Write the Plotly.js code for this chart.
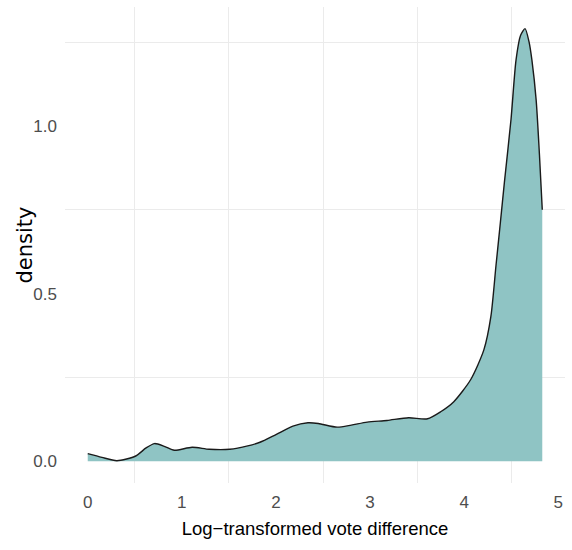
<!DOCTYPE html>
<html>
<head>
<meta charset="utf-8">
<script src="https://cdn.plot.ly/plotly-3.0.1.min.js"></script>
<style>html,body{margin:0;padding:0;background:#fff;}#chart{width:572px;height:550px;}</style>
</head>
<body>
<div id="chart"></div>
<script>
// Density estimate (x = log-transformed vote difference)
var logVoteDiff = [0, 0.15, 0.31, 0.51, 0.62, 0.71, 0.82, 0.92, 1.11, 1.29, 1.51, 1.70, 1.83, 2.0, 2.18, 2.34, 2.45, 2.65, 2.8, 2.97, 3.18, 3.41, 3.61, 3.75, 3.89, 4.07, 4.21, 4.284, 4.338, 4.384, 4.427, 4.498, 4.551, 4.60, 4.647, 4.69, 4.72, 4.765, 4.80, 4.83];
var densityVals = [0.023, 0.012, 0.002, 0.016, 0.040, 0.053, 0.044, 0.033, 0.042, 0.036, 0.036, 0.046, 0.057, 0.080, 0.105, 0.115, 0.113, 0.102, 0.108, 0.117, 0.122, 0.130, 0.127, 0.148, 0.178, 0.244, 0.333, 0.432, 0.583, 0.71, 0.83, 1.02, 1.196, 1.27, 1.29, 1.25, 1.196, 1.077, 0.914, 0.75];
var xTickVals = [0, 1, 2, 3, 4, 5];
var yTickVals = [0, 0.5, 1.0];
var yTickText = ["0.0", "0.5", "1.0"];

var tickFamily = '"Liberation Sans", Arial, sans-serif';

var trace = {
  x: logVoteDiff,
  y: densityVals,
  type: 'scatter',
  mode: 'lines',
  fill: 'tozeroy',
  fillcolor: '#8fc4c4',
  line: {color: '#1a1a1a', width: 1.4, shape: 'spline', smoothing: 0.7},
  hoverinfo: 'x+y'
};

var layout = {
  width: 572, height: 550,
  margin: {l: 65, r: 7, t: 7, b: 67},
  paper_bgcolor: '#ffffff',
  plot_bgcolor: '#ffffff',
  showlegend: false,
  xaxis: {
    range: [-0.2415, 5.0715],
    tickvals: xTickVals,
    ticktext: xTickVals.map(String),
    showgrid: false,
    zeroline: false,
    showline: false,
    ticks: '',
    ticklabelstandoff: 7,
    tickfont: {family: tickFamily, size: 17, color: '#4d4d4d'},
    minor: {tick0: 0.5, dtick: 1, showgrid: true, gridcolor: '#ebebeb', gridwidth: 1},
    title: {text: 'Log\u2212transformed vote difference', font: {family: tickFamily, size: 18.5, color: '#000000'}, standoff: 11}
  },
  yaxis: {
    range: [-0.0645, 1.3545],
    tickvals: yTickVals,
    ticktext: yTickText,
    showgrid: false,
    zeroline: false,
    showline: false,
    ticks: '',
    ticklabelstandoff: 7,
    tickfont: {family: tickFamily, size: 17, color: '#4d4d4d'},
    minor: {tick0: 0.25, dtick: 0.5, showgrid: true, gridcolor: '#ebebeb', gridwidth: 1},
    title: {text: 'density', font: {family: '"DejaVu Sans", sans-serif', size: 21, color: '#000000'}, standoff: 1}
  }
};

Plotly.newPlot('chart', [trace], layout, {displayModeBar: false, staticPlot: true}).then(function () {
  var t = document.querySelector('#chart .ytitle');
  if (t) {
    var tr = t.getAttribute('transform') || '';
    t.setAttribute('transform', 'translate(6,0) ' + tr);
  }
});
</script>
</body>
</html>
